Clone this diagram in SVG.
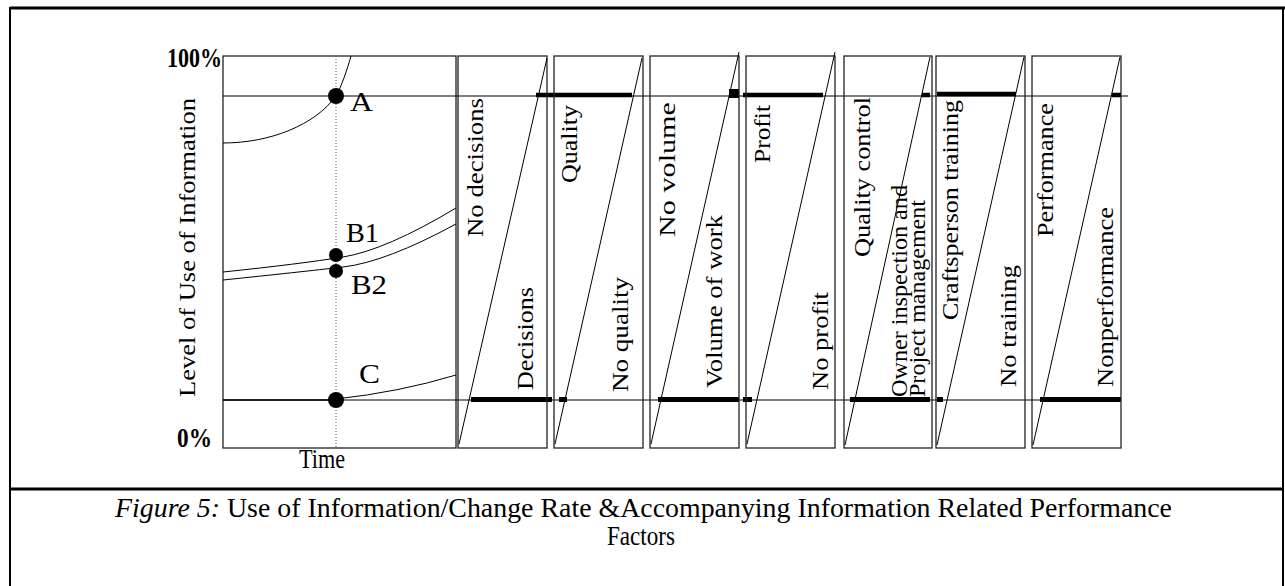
<svg xmlns="http://www.w3.org/2000/svg" width="1285" height="586" viewBox="0 0 1285 586">
<style>
.frame{fill:none;stroke:#000;stroke-width:3}
.box{fill:none;stroke:#222;stroke-width:1.3}
.ln{fill:none;stroke:#000;stroke-width:1}
.diag{fill:none;stroke:#000;stroke-width:1}
.bar{stroke:#000;stroke-width:4.5;fill:none}
.dot{fill:#000}
.vl{font-family:"Liberation Serif","Times New Roman",serif;font-size:23px;fill:#000}
.hl{font-family:"Liberation Serif","Times New Roman",serif;font-size:27px;fill:#000}
.cap{font-family:"Liberation Serif","Times New Roman",serif;font-size:27px;fill:#000}
</style>
<g id="frame">
<line class="frame" x1="10" y1="8" x2="1285" y2="8"/>
<line class="frame" x1="10" y1="7" x2="10" y2="586" style="stroke-width:2"/>
<line class="frame" x1="1283" y1="7" x2="1283" y2="586" style="stroke-width:2"/>
<line class="frame" x1="10" y1="489" x2="1283" y2="489"/>
</g>
<g id="chart">
<rect class="box" x="223" y="56" width="233" height="392"/>
<line x1="336" y1="56" x2="336" y2="448" stroke="#555" stroke-width="1" stroke-dasharray="1,2"/>
<path class="ln" d="M223,143 C270,143 315,125 336,96 C342,85 347,70 351,56"/>
<path class="ln" d="M223,272 Q300,264 343,257 T456,208"/>
<path class="ln" d="M223,280 Q300,272 343,267 T456,224"/>
<path class="ln" d="M336,399 Q400,392 456,375"/>
<line x1="223" y1="400" x2="336" y2="400" stroke="#000" stroke-width="1.6"/>
<circle class="dot" cx="336" cy="96" r="8"/>
<circle class="dot" cx="336" cy="255" r="7"/>
<circle class="dot" cx="336" cy="271" r="7"/>
<circle class="dot" cx="336" cy="400" r="8"/>
<text class="hl" x="167" y="67" font-weight="bold" font-size="25" textLength="55" lengthAdjust="spacingAndGlyphs">100%</text>
<text class="hl" x="177" y="447" font-weight="bold" font-size="25" textLength="35" lengthAdjust="spacingAndGlyphs">0%</text>
<text class="hl" x="350" y="111" textLength="23" lengthAdjust="spacingAndGlyphs">A</text>
<text class="hl" x="346" y="242" textLength="33" lengthAdjust="spacingAndGlyphs">B1</text>
<text class="hl" x="351" y="294" textLength="36" lengthAdjust="spacingAndGlyphs">B2</text>
<text class="hl" x="359" y="383" textLength="21" lengthAdjust="spacingAndGlyphs">C</text>
<text class="vl" transform="translate(195,397) rotate(-90)" textLength="299" lengthAdjust="spacingAndGlyphs">Level of Use of Information</text>
<text class="cap" x="299" y="468" textLength="46" lengthAdjust="spacingAndGlyphs">Time</text>
</g>
<g id="connectors">
<line class="ln" x1="223" y1="96" x2="1128" y2="96"/>
<line class="ln" x1="223" y1="400" x2="1121" y2="400"/>
<line class="bar" x1="536" y1="95" x2="632" y2="95"/>
<rect x="729" y="89" width="10" height="9" fill="#000"/>
<line class="bar" x1="743" y1="95" x2="823" y2="95"/>
<line class="bar" x1="922" y1="95" x2="930" y2="95"/>
<line class="bar" x1="937" y1="94" x2="1016" y2="94"/>
<line class="bar" x1="1112" y1="95" x2="1121" y2="95"/>
<line class="bar" x1="471" y1="399.5" x2="552" y2="399.5" style="stroke-width:5"/>
<line class="bar" x1="559" y1="399.5" x2="567" y2="399.5" style="stroke-width:5"/>
<line class="bar" x1="658" y1="399.5" x2="739" y2="399.5" style="stroke-width:5"/>
<line class="bar" x1="743" y1="399.5" x2="752" y2="399.5" style="stroke-width:5"/>
<line class="bar" x1="850" y1="399.5" x2="930" y2="399.5" style="stroke-width:5"/>
<line class="bar" x1="937" y1="399.5" x2="943" y2="399.5" style="stroke-width:5"/>
<line class="bar" x1="1040" y1="399.5" x2="1121" y2="399.5" style="stroke-width:5"/>
</g>
<g id="panel-decisions">
<rect class="box" x="458" y="56" width="89" height="392"/>
<line class="diag" x1="459" y1="444" x2="547" y2="58"/>
<text class="vl" transform="translate(483,237) rotate(-90)" textLength="139" lengthAdjust="spacingAndGlyphs">No decisions</text>
<text class="vl" transform="translate(533,390) rotate(-90)" textLength="103" lengthAdjust="spacingAndGlyphs">Decisions</text>
</g>
<g id="panel-quality">
<rect class="box" x="554" y="56" width="89" height="392"/>
<line class="diag" x1="555" y1="444" x2="642" y2="58"/>
<text class="vl" transform="translate(577,183) rotate(-90)" textLength="78" lengthAdjust="spacingAndGlyphs">Quality</text>
<text class="vl" transform="translate(628,392) rotate(-90)" textLength="115" lengthAdjust="spacingAndGlyphs">No quality</text>
</g>
<g id="panel-volume">
<rect class="box" x="650" y="56" width="89" height="392"/>
<line class="diag" x1="651" y1="444" x2="739" y2="52"/>
<text class="vl" transform="translate(675,237) rotate(-90)" textLength="135" lengthAdjust="spacingAndGlyphs">No volume</text>
<text class="vl" transform="translate(722,388) rotate(-90)" textLength="173" lengthAdjust="spacingAndGlyphs">Volume of work</text>
</g>
<g id="panel-profit">
<rect class="box" x="746" y="56" width="89" height="392"/>
<line class="diag" x1="747" y1="444" x2="835" y2="52"/>
<text class="vl" transform="translate(770,163) rotate(-90)" textLength="58" lengthAdjust="spacingAndGlyphs">Profit</text>
<text class="vl" transform="translate(828,390) rotate(-90)" textLength="98" lengthAdjust="spacingAndGlyphs">No profit</text>
</g>
<g id="panel-quality-control">
<rect class="box" x="844" y="56" width="88" height="392"/>
<line class="diag" x1="845" y1="445" x2="930" y2="57"/>
<text class="vl" transform="translate(870,257) rotate(-90)" textLength="160" lengthAdjust="spacingAndGlyphs">Quality control</text>
<text class="vl" transform="translate(907,397) rotate(-90)" textLength="212" lengthAdjust="spacingAndGlyphs">Owner inspection and</text>
<text class="vl" transform="translate(925,397) rotate(-90)" textLength="197" lengthAdjust="spacingAndGlyphs">Project management</text>
</g>
<g id="panel-training">
<rect class="box" x="936" y="56" width="89" height="392"/>
<line class="diag" x1="937" y1="445" x2="1024" y2="57"/>
<text class="vl" transform="translate(958,320) rotate(-90)" textLength="220" lengthAdjust="spacingAndGlyphs">Craftsperson training</text>
<text class="vl" transform="translate(1016,387) rotate(-90)" textLength="122" lengthAdjust="spacingAndGlyphs">No training</text>
</g>
<g id="panel-performance">
<rect class="box" x="1032" y="56" width="89" height="392"/>
<line class="diag" x1="1033" y1="445" x2="1120" y2="57"/>
<text class="vl" transform="translate(1053,237) rotate(-90)" textLength="134" lengthAdjust="spacingAndGlyphs">Performance</text>
<text class="vl" transform="translate(1113,387) rotate(-90)" textLength="180" lengthAdjust="spacingAndGlyphs">Nonperformance</text>
</g>
<g id="caption">
<text class="cap" x="115" y="517" textLength="1057" lengthAdjust="spacingAndGlyphs"><tspan font-style="italic">Figure 5:</tspan> Use of Information/Change Rate &amp;Accompanying Information Related Performance</text>
<text class="cap" x="607" y="545" textLength="68" lengthAdjust="spacingAndGlyphs">Factors</text>
</g>
</svg>
